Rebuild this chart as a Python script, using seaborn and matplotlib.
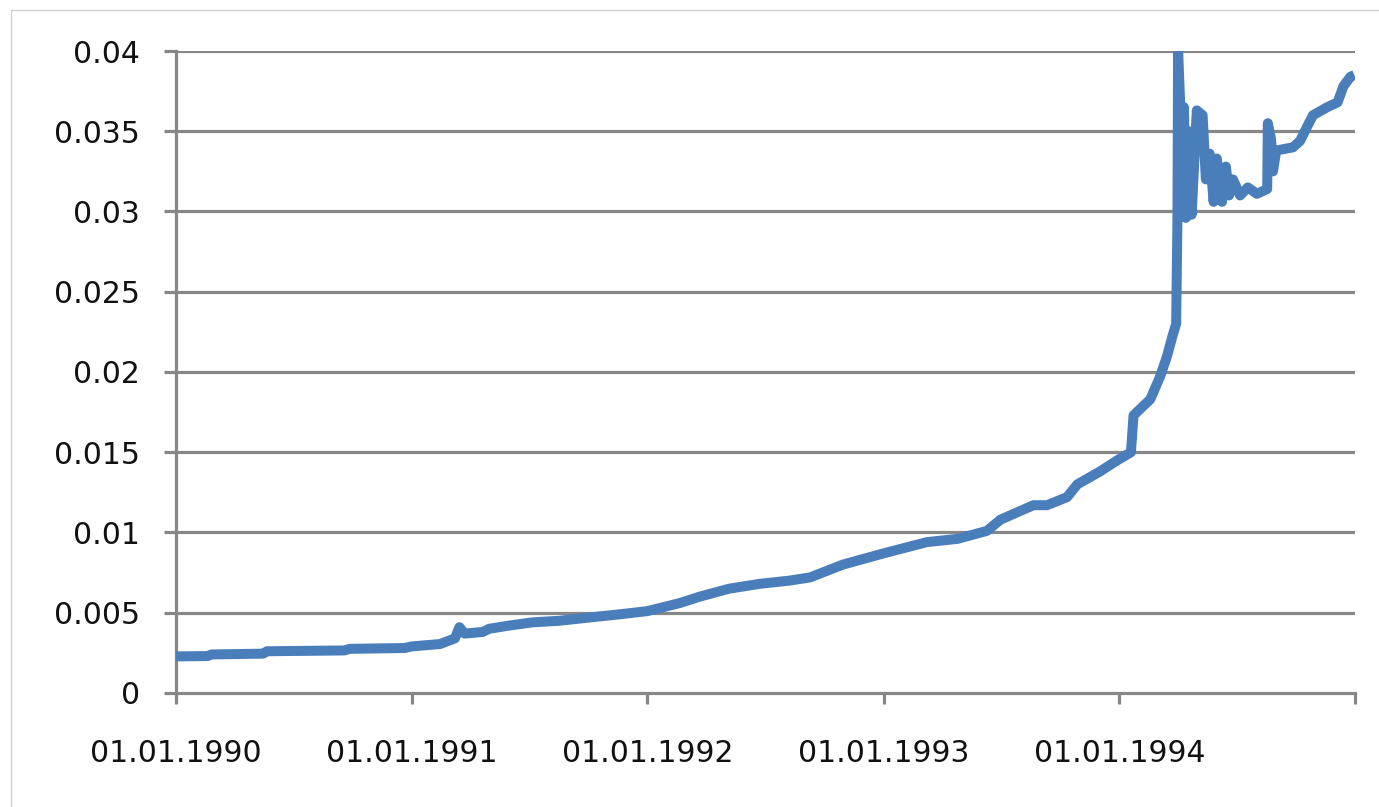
import matplotlib
matplotlib.use("Agg")
import matplotlib.pyplot as plt
import seaborn as sns
import pandas as pd
from matplotlib.lines import Line2D

dates = [
    "1990-01-01", "1990-02-19", "1990-02-25", "1990-05-16", "1990-05-22",
    "1990-09-19", "1990-09-27", "1990-12-21", "1991-01-01", "1991-02-14",
    "1991-03-09", "1991-03-16", "1991-03-24", "1991-04-21", "1991-05-01",
    "1991-06-01", "1991-07-07", "1991-08-18", "1991-10-03", "1991-11-19",
    "1992-01-01", "1992-02-20", "1992-03-22", "1992-05-07", "1992-06-23",
    "1992-08-08", "1992-08-24", "1992-09-09", "1992-10-30", "1993-01-01",
    "1993-03-09", "1993-04-25", "1993-06-10", "1993-07-01", "1993-08-21",
    "1993-09-11", "1993-10-12", "1993-10-28", "1993-12-02", "1993-12-29",
    "1994-01-19", "1994-01-23", "1994-02-18", "1994-03-05", "1994-03-16",
    "1994-03-24", "1994-03-30", "1994-04-01", "1994-04-02", "1994-04-05",
    "1994-04-08", "1994-04-11", "1994-04-14", "1994-04-19", "1994-04-23",
    "1994-05-01", "1994-05-10", "1994-05-15", "1994-05-21", "1994-05-27",
    "1994-06-01", "1994-06-09", "1994-06-15", "1994-06-20", "1994-06-26",
    "1994-07-07", "1994-07-19", "1994-08-02", "1994-08-18", "1994-08-19",
    "1994-08-24", "1994-08-27", "1994-09-01", "1994-09-27", "1994-10-08",
    "1994-10-19", "1994-10-28", "1994-11-19", "1994-12-05", "1994-12-14",
    "1994-12-25", "1994-12-31",
]
values = [
    0.00228, 0.00230, 0.00240, 0.00245, 0.00260,
    0.00265, 0.00275, 0.00280, 0.00290, 0.00305,
    0.00340, 0.00410, 0.00370, 0.00380, 0.00400,
    0.00420, 0.00440, 0.00450, 0.00470, 0.00490,
    0.00510, 0.00560, 0.00600, 0.00650, 0.00680,
    0.00700, 0.00710, 0.00720, 0.00800, 0.00870,
    0.00940, 0.00960, 0.01010, 0.01080, 0.01170,
    0.01170, 0.01220, 0.01300, 0.01380, 0.01450,
    0.01500, 0.01730, 0.01830, 0.01970, 0.02100,
    0.02220, 0.02300, 0.02950, 0.04000, 0.03700,
    0.03000, 0.03650, 0.02960, 0.03500, 0.02980,
    0.03630, 0.03600, 0.03200, 0.03360, 0.03060,
    0.03330, 0.03060, 0.03280, 0.03100, 0.03200,
    0.03100, 0.03150, 0.03110, 0.03140, 0.03550,
    0.03450, 0.03250, 0.03380, 0.03400, 0.03440,
    0.03530, 0.03600, 0.03650, 0.03680, 0.03780,
    0.03840, 0.03850,
]
y_ticks = [0, 0.005, 0.01, 0.015, 0.02, 0.025, 0.03, 0.035, 0.04]
y_tick_labels = ["0", "0.005", "0.01", "0.015", "0.02", "0.025", "0.03", "0.035", "0.04"]
x_ticks = ["1990-01-01", "1991-01-01", "1992-01-01", "1993-01-01", "1994-01-01"]
x_tick_labels = ["01.01.1990", "01.01.1991", "01.01.1992", "01.01.1993", "01.01.1994"]

df = pd.DataFrame({"date": pd.to_datetime(dates), "value": values})

sns.set_theme(style="white")
plt.rcParams["font.family"] = ["DejaVu Sans"]

fig = plt.figure(figsize=(13.79, 8.07), dpi=100)
ax = fig.add_axes([0.1276, 0.1413, 0.8550, 0.7955])

grid_color = "#878787"
for yt in y_ticks[1:]:
    ax.axhline(yt, color=grid_color, lw=2.3, zorder=1)

sns.lineplot(data=df, x="date", y="value", ax=ax, color="#4A7EBB",
             linewidth=7.2, zorder=3, solid_joinstyle="round", solid_capstyle="butt")

ax.set_ylim(0, 0.04)
ax.set_xlim(pd.Timestamp("1990-01-01"), pd.Timestamp("1995-01-01"))
ax.set_yticks(y_ticks)
ax.set_yticklabels(y_tick_labels)
ax.set_xticks(pd.to_datetime(x_ticks))
ax.set_xticklabels(x_tick_labels)
ax.set_xticks(pd.to_datetime(["1995-01-01"]), minor=True)
ax.set_xlabel("")
ax.set_ylabel("")

for s in ["top", "right"]:
    ax.spines[s].set_visible(False)
for s in ["left", "bottom"]:
    ax.spines[s].set_color(grid_color)
    ax.spines[s].set_linewidth(2.3)
    ax.spines[s].set_zorder(2)

ax.tick_params(axis="y", which="major", direction="out", length=9, width=2.3,
               color=grid_color, labelsize=21.5, pad=17, labelcolor="#111111", left=True)
ax.tick_params(axis="x", which="both", direction="out", length=8, width=2.3,
               color=grid_color, labelsize=21.5, pad=25, labelcolor="#111111", bottom=True)

# light outer frame (top and left edges visible in the reference)
fig.add_artist(Line2D([0.008, 0.008], [0.0, 0.988], transform=fig.transFigure,
                      color="#d0d0d0", lw=1.0))
fig.add_artist(Line2D([0.008, 1.0], [0.988, 0.988], transform=fig.transFigure,
                      color="#d0d0d0", lw=1.0))

fig.savefig("out.png", dpi=100)
